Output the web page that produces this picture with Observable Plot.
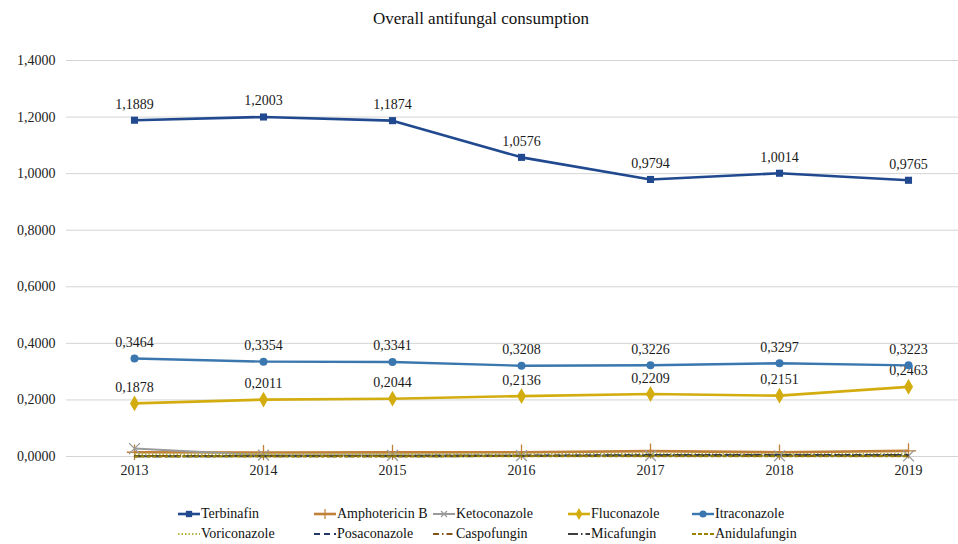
<!DOCTYPE html>
<html>
<head>
<meta charset="utf-8">
<script src="https://cdn.jsdelivr.net/npm/d3@7"></script>
<script src="https://cdn.jsdelivr.net/npm/@observablehq/plot@0.6"></script>
<style>
  body { margin: 0; background: #fff; font-family: "Liberation Serif", "Times New Roman", serif; }
  #wrap { width: 958px; height: 544px; position: relative; overflow: hidden; }
  #title { height: 40px; line-height: 38px; text-align: center; font-size: 17px; color: #111; padding-left: 4px; }
  #legend { position: absolute; left: 0; top: 504px; width: 958px; height: 40px; font-size: 14px; color: #111; }
  .item { position: absolute; display: flex; align-items: center; height: 20px; white-space: nowrap; }
  .item svg { margin-right: 1px; }
</style>
</head>
<body>
<div id="wrap">
  <div id="title">Overall antifungal consumption</div>
  <div id="chart"></div>
  <div id="legend"></div>
</div>
<script>
// Years on the x axis
const years = ["2013", "2014", "2015", "2016", "2017", "2018", "2019"];
const yTicks = [0, 0.2, 0.4, 0.6, 0.8, 1.0, 1.2, 1.4];

// Consumption per antifungal agent
const terbinafin     = [1.1889, 1.2003, 1.1874, 1.0576, 0.9794, 1.0014, 0.9765];
const amphotericinB  = [0.0150, 0.0140, 0.0145, 0.0150, 0.0190, 0.0150, 0.0200];
const ketoconazole   = [0.0280, 0.0050, 0.0040, 0.0030, 0.0030, 0.0025, 0.0020];
const fluconazole    = [0.1878, 0.2011, 0.2044, 0.2136, 0.2209, 0.2151, 0.2463];
const itraconazole   = [0.3464, 0.3354, 0.3341, 0.3208, 0.3226, 0.3297, 0.3223];
const voriconazole   = [0.0080, 0.0085, 0.0090, 0.0095, 0.0100, 0.0090, 0.0095];
const posaconazole   = [0.0010, 0.0015, 0.0020, 0.0030, 0.0050, 0.0050, 0.0055];
const caspofungin    = [0.0020, 0.0020, 0.0020, 0.0025, 0.0025, 0.0020, 0.0020];
const micafungin     = [0.0005, 0.0005, 0.0010, 0.0015, 0.0040, 0.0045, 0.0050];
const anidulafungin  = [0.0003, 0.0003, 0.0004, 0.0005, 0.0006, 0.0006, 0.0006];

// Drawing style of each series (order = drawing order)
const series = [
  {name: "Terbinafin",     values: terbinafin,    color: "#21498f", width: 2.6, dash: null,       symbol: "square",  labels: true},
  {name: "Amphotericin B", values: amphotericinB, color: "#c0803a", width: 2.6, dash: null,       symbol: "plus",    labels: false},
  {name: "Ketoconazole",   values: ketoconazole,  color: "#9a9a9a", width: 2.0, dash: null,       symbol: "times",   labels: false},
  {name: "Fluconazole",    values: fluconazole,   color: "#d3ad10", width: 2.6, dash: null,       symbol: "diamond", labels: true},
  {name: "Itraconazole",   values: itraconazole,  color: "#3a77ae", width: 2.4, dash: null,       symbol: "circle",  labels: true},
  {name: "Voriconazole",   values: voriconazole,  color: "#b3b248", width: 2.0, dash: "1.5,2",    symbol: null,      labels: false},
  {name: "Posaconazole",   values: posaconazole,  color: "#1f3864", width: 2.0, dash: "6,4",      symbol: null,      labels: false},
  {name: "Caspofungin",    values: caspofungin,   color: "#845416", width: 2.0, dash: "6,3,1.5,3", symbol: null,     labels: false},
  {name: "Micafungin",     values: micafungin,    color: "#3d3d3d", width: 2.0, dash: "10,3,1.5,3", symbol: null,    labels: false},
  {name: "Anidulafungin",  values: anidulafungin, color: "#9a8200", width: 2.0, dash: "4,2",      symbol: null,      labels: false}
];

const rows = series.flatMap(s => s.values.map((v, i) => ({series: s.name, year: years[i], value: v})));
const fmt = d => d.toFixed(4).replace(".", ",");

const marks = [
  Plot.ruleY(yTicks, {stroke: "#d4d4d4", strokeWidth: 1}),
  Plot.axisY({ticks: yTicks, tickFormat: fmt, tickSize: 0, tickPadding: 11, fontSize: 14, label: null, fill: "#222"}),
  Plot.axisX({tickSize: 0, tickPadding: 9, fontSize: 14, label: null, fill: "#222"})
];

for (const s of series) {
  const data = rows.filter(r => r.series === s.name);
  marks.push(Plot.line(data, {
    x: "year", y: "value", stroke: s.color, strokeWidth: s.width,
    strokeDasharray: s.dash, strokeLinecap: "butt", strokeLinejoin: "round"
  }));
  if (s.symbol) {
    const filled = s.symbol !== "plus" && s.symbol !== "times";
    marks.push(Plot.dot(data, {
      x: "year", y: "value", symbol: s.symbol,
      r: s.symbol === "diamond" ? 4.8 : (filled ? 4 : 5),
      fill: filled ? s.color : "none", stroke: s.color, strokeWidth: filled ? 0 : 1.3
    }));
  }
  if (s.labels) {
    marks.push(Plot.text(data, {
      x: "year", y: "value", text: d => fmt(d.value), dy: -16,
      fontSize: 14, fill: "#1a1a1a"
    }));
  }
}

const chart = Plot.plot({
  width: 958,
  height: 450,
  marginLeft: 66,
  marginRight: 0,
  marginTop: 20,
  marginBottom: 34,
  style: {fontFamily: "'Liberation Serif', 'Times New Roman', serif", background: "#fff", overflow: "visible"},
  x: {type: "point", domain: years, range: [131, 910], padding: 0},
  y: {domain: [0, 1.4]},
  marks
});
document.getElementById("chart").appendChild(chart);

// Legend: two rows of five entries
const legendCols = [178, 314, 433, 568, 692];
const legend = d3.select("#legend");
series.forEach((s, i) => {
  const row = Math.floor(i / 5), col = i % 5;
  const item = legend.append("div").attr("class", "item")
    .style("left", legendCols[col] + "px").style("top", (row * 20) + "px");
  const sw = item.append("svg").attr("width", 22).attr("height", 12);
  sw.append("line").attr("x1", 0).attr("x2", 22).attr("y1", 6).attr("y2", 6)
    .attr("stroke", s.color).attr("stroke-width", s.width)
    .attr("stroke-dasharray", s.dash);
  if (s.symbol) {
    const sym = {square: d3.symbolSquare, circle: d3.symbolCircle, diamond: d3.symbolDiamond}[s.symbol];
    const filled = s.symbol !== "plus" && s.symbol !== "times";
    const p = sw.append("path").attr("transform", "translate(11,6)")
      .attr("d", s.symbol === "plus"
        ? "M-4,0H4M0,-5V5"
        : s.symbol === "times" ? "M-3,-3L3,3M-3,3L3,-3" : d3.symbol(sym, 40)());
    if (filled) p.attr("fill", s.color);
    else p.attr("fill", "none").attr("stroke", s.color).attr("stroke-width", 1.2);
  }
  item.append("span").text(s.name);
});
</script>
</body>
</html>
